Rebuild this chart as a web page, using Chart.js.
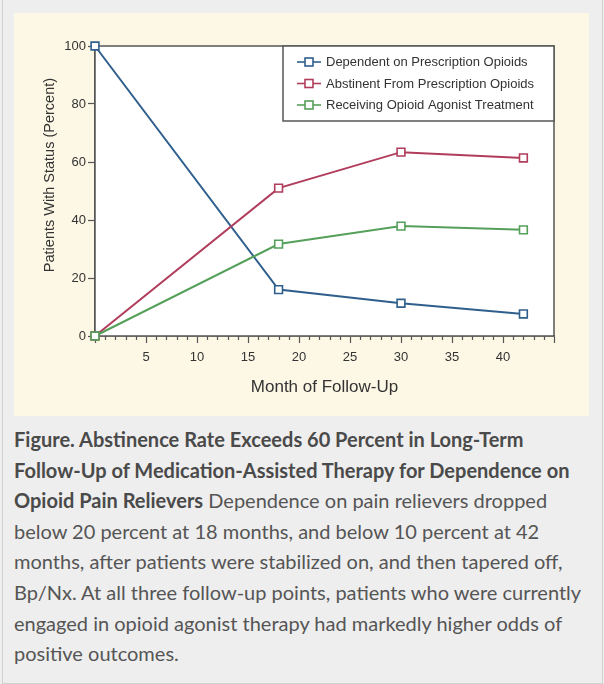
<!DOCTYPE html>
<html>
<head>
<meta charset="utf-8">
<script src="https://cdn.jsdelivr.net/npm/chart.js@4.4.1/dist/chart.umd.min.js"></script>
<style>
  html, body { margin: 0; padding: 0; }
  body { width: 604px; height: 684px; background: #eeeeee; position: relative; overflow: hidden; }
  #frame { position: absolute; left: 2px; top: -2px; width: 599px; height: 684px; border: 1px solid #d2d2d2; }
  #panel { position: absolute; left: 14px; top: 13px; width: 575px; height: 403px; background: #fdf8e6; }
  #caption {
    position: absolute; left: 14px; top: 424px;
    font-family: Lato, "Open Sans", sans-serif; font-size: 20px; line-height: 30.6px;
    color: #555555; white-space: nowrap;
  }
  #caption b { color: #4a4a4a; }
</style>
</head>
<body>
<div id="frame"></div>
<div id="panel"><canvas id="lineChart" width="575" height="403"></canvas></div>
<div id="caption">
<b>Figure. Abstinence Rate Exceeds 60 Percent in Long-Term</b><br>
<b>Follow-Up of Medication-Assisted Therapy for Dependence on</b><br>
<b>Opioid Pain Relievers</b> Dependence on pain relievers dropped<br>
below 20 percent at 18 months, and below 10 percent at 42<br>
months, after patients were stabilized on, and then tapered off,<br>
Bp/Nx. At all three follow-up points, patients who were currently<br>
engaged in opioid agonist therapy had markedly higher odds of<br>
positive outcomes.
</div>
<script>
// Dados
const months = [0, 18, 30, 42];
const dependent = [100, 16, 11.3, 7.6];
const abstinent = [0, 51, 63.4, 61.4];
const agonist = [0, 31.7, 37.9, 36.6];
const seriesNames = ['Dependent on Prescription Opioids', 'Abstinent From Prescription Opioids', 'Receiving Opioid Agonist Treatment'];
const xTickLabels = [5, 10, 15, 20, 25, 30, 35, 40];
const yTickLabels = [0, 20, 40, 60, 80, 100];
const yTitle = 'Patients With Status (Percent)';

const axisColor = '#555555';
const fontName = '"Liberation Sans", Arial, sans-serif';

function toPoints(values) {
  return months.map((m, i) => ({ x: m, y: values[i] }));
}

function serie(label, values, color, order) {
  return {
    label: label,
    data: toPoints(values),
    borderColor: color,
    borderWidth: 2,
    pointStyle: 'rect',
    pointRadius: 5.5,
    pointBorderWidth: 1.6,
    pointBackgroundColor: '#ffffff',
    pointBorderColor: color,
    tension: 0,
    clip: false,
    order: order
  };
}

// caixa, ticks menores, titulo do eixo y e legenda
const framePlugin = {
  id: 'frame',
  beforeDatasetsDraw(chart) {
    const { ctx, chartArea: a } = chart;
    ctx.save();
    ctx.fillStyle = '#ffffff';
    ctx.fillRect(a.left, a.top, a.right - a.left, a.bottom - a.top);
    ctx.strokeStyle = axisColor;
    ctx.lineWidth = 1.5;
    ctx.strokeRect(a.left, a.top, a.right - a.left, a.bottom - a.top);
    // ticks menores
    const xs = chart.scales.x;
    ctx.lineWidth = 1.2;
    ctx.beginPath();
    for (let v = 1; v < 45; v++) {
      if (v % 5 === 0) continue;
      const px = Math.round(xs.getPixelForValue(v)) + 0.5;
      ctx.moveTo(px, a.bottom);
      ctx.lineTo(px, a.bottom + 4);
    }
    ctx.stroke();
    // titulo do eixo y (um pouco acima do centro, como no original)
    const ys = chart.scales.y;
    ctx.translate(36, ys.getPixelForValue(55.5));
    ctx.rotate(-Math.PI / 2);
    ctx.font = '14.5px ' + fontName;
    ctx.fillStyle = '#333333';
    ctx.textAlign = 'center';
    ctx.textBaseline = 'middle';
    ctx.fillText(yTitle, 0, 0);
    ctx.restore();
  },
  afterDatasetsDraw(chart) {
    const { ctx, chartArea: a } = chart;
    const boxW = 271, boxH = 75;
    const bx = a.right - boxW, by = a.top;
    ctx.save();
    ctx.fillStyle = '#ffffff';
    ctx.fillRect(bx, by, boxW, boxH);
    ctx.strokeStyle = axisColor;
    ctx.lineWidth = 1.5;
    ctx.strokeRect(bx, by, boxW, boxH);
    ctx.font = '13px ' + fontName;
    ctx.textBaseline = 'middle';
    ctx.textAlign = 'left';
    chart.data.datasets.forEach((ds, i) => {
      const cy = by + 16 + i * 21.5;
      ctx.strokeStyle = ds.borderColor;
      ctx.lineWidth = 1.6;
      ctx.beginPath();
      ctx.moveTo(bx + 14, cy);
      ctx.lineTo(bx + 38, cy);
      ctx.stroke();
      ctx.fillStyle = '#ffffff';
      ctx.fillRect(bx + 22, cy - 4, 8, 8);
      ctx.strokeRect(bx + 22, cy - 4, 8, 8);
      ctx.fillStyle = '#333333';
      ctx.fillText(ds.label, bx + 43, cy + 0.5);
    });
    ctx.restore();
  }
};

const ctxLine = document.getElementById('lineChart').getContext('2d');
const lineChart = new Chart(ctxLine, {
  type: 'line',
  data: {
    datasets: [
      serie(seriesNames[0], dependent, '#2f5f8c', 2),
      serie(seriesNames[1], abstinent, '#b13d5c', 1),
      serie(seriesNames[2], agonist, '#55a05a', 0)
    ]
  },
  options: {
    responsive: false,
    animation: false,
    layout: { padding: { top: 33, right: 35, left: 0, bottom: 0 } },
    plugins: {
      legend: { display: false },
      tooltip: { enabled: false }
    },
    scales: {
      x: {
        type: 'linear',
        min: 0,
        max: 45,
        afterFit: (s) => { s.height = 80; },
        ticks: {
          stepSize: 5,
          padding: 7,
          color: '#333333',
          font: { family: fontName, size: 13 },
          maxRotation: 0,
          callback: (v) => xTickLabels.includes(v) ? String(v) : ''
        },
        grid: { drawOnChartArea: false, tickLength: 7, color: axisColor, tickWidth: 1.2 },
        border: { display: true, color: axisColor, width: 1.5 },
        title: {
          display: true,
          text: 'Month of Follow-Up',
          color: '#333333',
          font: { family: fontName, size: 17 },
          padding: { top: 0, bottom: 18 }
        }
      },
      y: {
        min: 0,
        max: 100,
        afterFit: (s) => { s.width = 81; },
        ticks: {
          stepSize: 20,
          padding: 2,
          color: '#333333',
          font: { family: fontName, size: 13 },
          callback: (v) => yTickLabels.includes(v) ? String(v) : ''
        },
        grid: { drawOnChartArea: false, tickLength: 7, color: axisColor, tickWidth: 1.2 },
        border: { display: true, color: axisColor, width: 1.5 }
      }
    }
  },
  plugins: [framePlugin]
});
</script>
</body>
</html>
